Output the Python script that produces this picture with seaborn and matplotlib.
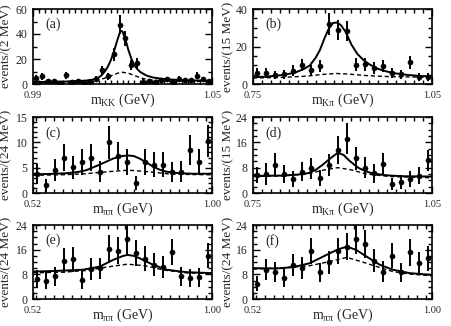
import numpy as np
import pandas as pd
import matplotlib
matplotlib.use("Agg")
import matplotlib.pyplot as plt
from matplotlib.ticker import MultipleLocator, FixedLocator
import seaborn as sns

# ---- data ----
# (a) m_KK, 2 MeV bins
bins_a = np.round(np.arange(0.991, 1.050, 0.002), 4)
ev_a = [5.1, 6.1, 2.4, 2.4, 1.0, 7.0, 1.5, 2.4, 1.0, 2.0, 4.3, 11.0, 6.4, 23.7, 47.5,
        36.5, 15.0, 16.5, 2.0, 2.4, 1.3, 3.2, 3.7, 1.3, 4.3, 3.2, 3.2, 6.7, 3.7, 2.4]
err_a = [2.5, 2.6, 1.8, 1.8, 1.4, 3.0, 1.5, 1.8, 1.4, 1.7, 2.4, 3.6, 2.8, 5.0, 7.5,
         6.2, 4.0, 4.2, 1.7, 1.8, 1.5, 2.0, 2.2, 1.5, 2.4, 2.0, 2.0, 2.8, 2.2, 1.8]
fit_x_a = [0.990, 0.995, 1.000, 1.005, 1.008, 1.010, 1.012, 1.013, 1.014, 1.015, 1.016,
           1.017, 1.018, 1.019, 1.0195, 1.020, 1.021, 1.022, 1.023, 1.024, 1.025, 1.026,
           1.028, 1.030, 1.033, 1.036, 1.040, 1.045, 1.050]
fit_y_a = [1.6, 1.7, 1.9, 2.3, 2.8, 3.5, 5.2, 7.0, 9.8, 13.5, 18.5, 25.0, 33.0, 40.5, 42.5,
           42.0, 35.5, 27.0, 20.0, 15.0, 11.8, 9.5, 6.8, 5.3, 4.2, 3.6, 3.1, 2.8, 2.6]
bkg_x_a = [0.990, 0.995, 1.000, 1.005, 1.008, 1.011, 1.013, 1.015, 1.017, 1.019, 1.020,
           1.022, 1.024, 1.026, 1.028, 1.030, 1.035, 1.040, 1.050]
bkg_y_a = [0.7, 0.8, 1.0, 1.3, 1.8, 2.8, 3.9, 5.4, 7.3, 9.2, 9.4, 8.6, 6.8, 5.0, 3.8,
           3.1, 2.4, 2.1, 2.0]

# (b) m_Kpi, 15 MeV bins
bins_b = np.round(np.arange(0.7575, 1.05, 0.015), 4)
ev_b = [6.0, 6.0, 4.8, 5.2, 7.1, 10.0, 7.5, 9.7, 32.0, 28.8, 28.3, 10.4, 10.5, 8.5, 9.6,
        6.0, 5.2, 11.6, 3.9, 3.9]
err_b = [2.6, 2.6, 2.3, 2.4, 2.8, 3.3, 2.9, 3.2, 5.8, 5.5, 5.4, 3.3, 3.3, 3.0, 3.2,
         2.6, 2.4, 3.5, 2.1, 2.1]
fit_x_b = [0.750, 0.775, 0.800, 0.820, 0.835, 0.845, 0.855, 0.862, 0.870, 0.877, 0.884,
           0.890, 0.897, 0.905, 0.915, 0.925, 0.935, 0.945, 0.960, 0.975, 0.990, 1.010,
           1.030, 1.050]
fit_y_b = [3.6, 4.0, 4.8, 6.0, 8.0, 9.8, 14.0, 18.0, 24.5, 29.5, 32.5, 32.8, 31.5, 28.0,
           21.0, 16.0, 12.8, 10.5, 8.0, 6.6, 5.6, 4.8, 4.3, 4.0]
bkg_x_b = [0.750, 0.800, 0.840, 0.870, 0.890, 0.910, 0.940, 0.980, 1.050]
bkg_y_b = [3.2, 3.5, 4.2, 5.2, 5.6, 5.3, 4.5, 3.9, 3.6]

# (c) m_pipi, 24 MeV bins
bins_c = np.round(np.arange(0.532, 1.0, 0.024), 4)
ev_c = [3.7, 1.5, 4.6, 7.0, 5.1, 6.1, 7.0, 4.2, 10.0, 7.3, 6.1, 2.0, 6.1, 5.6, 5.6,
        4.1, 4.2, 8.5, 6.1, 10.3]
err_c = [2.0, 1.3, 2.2, 2.7, 2.3, 2.5, 2.7, 2.1, 3.2, 2.7, 2.5, 1.4, 2.5, 2.4, 2.4,
         2.0, 2.1, 2.9, 2.5, 3.2]
fit_x_c = [0.520, 0.560, 0.609, 0.640, 0.663, 0.699, 0.735, 0.760, 0.775, 0.790, 0.806,
           0.825, 0.842, 0.860, 0.878, 0.913, 0.950, 1.000]
fit_y_c = [3.7, 3.75, 3.9, 4.15, 4.5, 5.6, 6.8, 7.3, 7.4, 7.3, 6.8, 6.0, 5.2, 4.6, 4.2,
           3.9, 3.8, 3.8]
bkg_x_c = [0.520, 0.600, 0.660, 0.720, 0.775, 0.830, 0.880, 0.940, 1.000]
bkg_y_c = [3.5, 3.6, 3.8, 4.2, 4.5, 4.2, 3.8, 3.65, 3.6]

# (d) m_Kpi, 15 MeV bins
bins_d = bins_b
ev_d = [5.7, 6.0, 9.0, 6.0, 4.4, 6.7, 7.8, 4.7, 8.8, 13.6, 17.1, 10.9, 8.0, 6.2, 9.3,
        2.8, 3.4, 4.4, 5.4, 10.3]
err_d = [2.4, 3.5, 3.6, 2.9, 2.6, 3.0, 3.3, 2.6, 3.4, 4.3, 4.9, 3.6, 3.3, 2.9, 3.4,
         2.0, 2.2, 2.5, 2.7, 3.4]
fit_x_d = [0.750, 0.800, 0.830, 0.843, 0.855, 0.866, 0.880, 0.892, 0.902, 0.911, 0.920,
           0.928, 0.940, 0.950, 0.973, 1.000, 1.050]
fit_y_d = [5.4, 5.5, 5.9, 6.3, 7.3, 8.8, 11.0, 12.7, 12.0, 10.3, 8.9, 7.8, 6.8, 6.2, 5.6,
           5.3, 5.2]
bkg_x_d = [0.750, 0.800, 0.840, 0.870, 0.892, 0.915, 0.940, 0.980, 1.050]
bkg_y_d = [5.2, 5.4, 6.0, 7.3, 8.0, 7.3, 6.0, 5.2, 4.8]

# (e) m_pipi, 24 MeV bins
bins_e = bins_c
ev_e = [6.5, 5.9, 7.3, 12.4, 12.9, 6.2, 9.7, 9.9, 16.1, 15.7, 19.6, 14.9, 13.1, 11.1,
        10.5, 15.3, 7.3, 6.8, 7.0, 14.1]
err_e = [2.9, 2.8, 3.0, 4.0, 4.1, 2.8, 3.5, 3.5, 4.5, 4.4, 4.9, 4.3, 4.0, 3.7, 3.6,
         4.3, 3.0, 3.0, 3.0, 4.2]
fit_x_e = [0.520, 0.580, 0.654, 0.699, 0.735, 0.760, 0.773, 0.790, 0.806, 0.842, 0.878,
           0.931, 1.000]
fit_y_e = [8.9, 9.1, 9.5, 10.5, 12.7, 13.9, 14.3, 14.0, 13.2, 11.1, 9.5, 8.7, 8.4]
bkg_x_e = [0.520, 0.600, 0.660, 0.720, 0.773, 0.820, 0.870, 0.930, 1.000]
bkg_y_e = [8.5, 8.7, 9.2, 10.4, 11.3, 10.8, 9.4, 8.5, 8.2]

# (f) m_pipi, 24 MeV bins
bins_f = bins_c
ev_f = [5.0, 9.5, 8.8, 6.8, 11.0, 10.0, 15.5, 8.6, 11.9, 15.5, 17.0, 19.4, 17.8, 12.4,
        8.9, 14.0, 8.6, 15.1, 11.6, 13.2]
err_f = [2.5, 3.4, 3.3, 2.9, 3.7, 3.5, 4.3, 3.2, 3.8, 4.3, 4.5, 4.9, 4.6, 3.8, 3.3,
         4.1, 3.2, 4.3, 3.7, 4.0]
fit_x_f = [0.520, 0.583, 0.627, 0.672, 0.717, 0.748, 0.772, 0.797, 0.824, 0.860, 0.895,
           0.940, 1.000]
fit_y_f = [10.0, 9.9, 10.3, 11.6, 14.3, 16.1, 17.0, 15.9, 13.8, 11.1, 9.5, 8.4, 7.8]
bkg_x_f = [0.520, 0.583, 0.672, 0.720, 0.772, 0.824, 0.860, 0.895, 0.940, 1.000]
bkg_y_f = [9.7, 10.0, 10.8, 12.0, 13.5, 11.6, 10.2, 8.9, 8.1, 7.5]

sns.set_style("ticks")
plt.rcParams["font.family"] = ["Liberation Serif", "DejaVu Serif"]
plt.rcParams["mathtext.fontset"] = "custom"
plt.rcParams["mathtext.rm"] = "Liberation Serif"
plt.rcParams["mathtext.it"] = "Liberation Serif:italic"

panels = [
    ("(a)", bins_a, ev_a, err_a, fit_x_a, fit_y_a, bkg_x_a, bkg_y_a,
     (0.99, 1.05), ["0.99", "1.05"], 0.002, (0, 60), 20, 10,
     r"m$_{\mathrm{KK}}$ (GeV)", "events/(2 MeV)"),
    ("(b)", bins_b, ev_b, err_b, fit_x_b, fit_y_b, bkg_x_b, bkg_y_b,
     (0.75, 1.05), ["0.75", "1.05"], 0.015, (0, 40), 20, 5,
     r"m$_{\mathrm{K\pi}}$ (GeV)", "events/(15 MeV)"),
    ("(c)", bins_c, ev_c, err_c, fit_x_c, fit_y_c, bkg_x_c, bkg_y_c,
     (0.52, 1.00), ["0.52", "1.00"], 0.024, (0, 15), 5, 1,
     r"m$_{\mathrm{\pi\pi}}$ (GeV)", "events/(24 MeV)"),
    ("(d)", bins_d, ev_d, err_d, fit_x_d, fit_y_d, bkg_x_d, bkg_y_d,
     (0.75, 1.05), ["0.75", "1.05"], 0.015, (0, 24), 8, 2,
     r"m$_{\mathrm{K\pi}}$ (GeV)", "events/(15 MeV)"),
    ("(e)", bins_e, ev_e, err_e, fit_x_e, fit_y_e, bkg_x_e, bkg_y_e,
     (0.52, 1.00), ["0.52", "1.00"], 0.024, (0, 24), 8, 2,
     r"m$_{\mathrm{\pi\pi}}$ (GeV)", "events/(24 MeV)"),
    ("(f)", bins_f, ev_f, err_f, fit_x_f, fit_y_f, bkg_x_f, bkg_y_f,
     (0.52, 1.00), ["0.52", "1.00"], 0.024, (0, 24), 8, 2,
     r"m$_{\mathrm{\pi\pi}}$ (GeV)", "events/(24 MeV)"),
]

W, H = 452, 326
col_left = [33, 253]
row_top = [9, 117, 225]
row_h = [75, 76, 74]
ax_w = 179

fig = plt.figure(figsize=(W / 100, H / 100), dpi=100)

for i, (tag, xb, ev, er, fx, fy, bx, by, xlim, xlabs, xstep, ylim, ymaj, ymin,
        xlab, ylab) in enumerate(panels):
    r, c = divmod(i, 2)
    x0 = col_left[c] / W
    y0 = 1 - (row_top[r] + row_h[r]) / H
    ax = fig.add_axes([x0, y0, ax_w / W, row_h[r] / H])

    sns.lineplot(x=fx, y=fy, ax=ax, color="black", lw=1.4, sort=False, estimator=None)
    sns.lineplot(x=bx, y=by, ax=ax, color="black", lw=1.0, sort=False, estimator=None,
                 linestyle=(0, (3, 2)))
    ax.errorbar(xb, ev, yerr=er, fmt="none", ecolor="black", elinewidth=1.4, capsize=0)
    sns.scatterplot(x=xb, y=ev, ax=ax, color="black", s=14, edgecolor="black",
                    linewidth=0.3, zorder=5)

    ax.set_xlim(*xlim)
    ax.set_ylim(*ylim)
    ax.xaxis.set_major_locator(FixedLocator(list(xlim)))
    ax.set_xticklabels(xlabs)
    ax.xaxis.set_minor_locator(MultipleLocator(xstep))
    ax.yaxis.set_major_locator(MultipleLocator(ymaj))
    ax.yaxis.set_minor_locator(MultipleLocator(ymin))
    ax.tick_params(which="both", direction="in", top=True, right=True, color="black",
                   width=1.0)
    ax.tick_params(which="major", length=5)
    ax.tick_params(which="minor", length=3)
    ax.tick_params(axis="x", labelsize=7.5, pad=5)
    ax.tick_params(axis="y", labelsize=8.5, pad=4)
    for sp in ax.spines.values():
        sp.set_linewidth(1.2)
        sp.set_color("black")

    ax.set_xlabel(xlab, fontsize=10)
    ax.xaxis.set_label_coords(0.5, -0.1)
    ax.set_ylabel(ylab, fontsize=9.5)
    ax.yaxis.set_label_coords(-0.115 if c == 0 else -0.105, 0.5)
    ax.text(0.07, 0.88, tag, transform=ax.transAxes, fontsize=10, va="top", ha="left")

fig.savefig("out.png", dpi=100)
